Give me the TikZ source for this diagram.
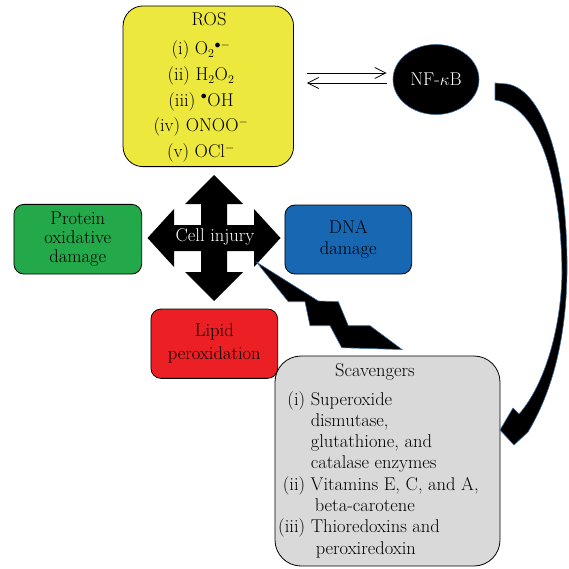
\documentclass[tikz,border=0pt]{standalone}
\usetikzlibrary{arrows.meta,calc,shapes.geometric}
\definecolor{rosyellow}{RGB}{237,232,62}
\definecolor{protgreen}{RGB}{35,168,74}
\definecolor{dnablue}{RGB}{23,103,178}
\definecolor{lipidred}{RGB}{236,32,36}
\definecolor{scavgray}{RGB}{217,217,217}
\definecolor{edgeblue}{RGB}{60,110,160}
\tikzset{
  box/.style={draw=black, line width=0.8pt, rounded corners=10pt, inner sep=0pt, align=center},
  txt/.style={inner sep=0pt, font=\fontsize{18.5}{21.3}\selectfont},
  dblarrow/.style={line width=0.8pt, -{Straight Barb[length=11pt,width=11pt]}},
  shapeedge/.style={fill=black, draw=edgeblue, line width=0.6pt}
}
\begin{document}
\begin{tikzpicture}[x=1pt,y=-1pt]
\useasboundingbox (0,0) rectangle (569,569);

% ROS box
\node[box, fill=rosyellow, rounded corners=20pt, minimum width=170.5pt, minimum height=160.7pt] (ros) at (208.3,86.3) {};
\node[txt, anchor=base] (rostitle) at (209,26) {ROS};
\node[txt, anchor=base, font=\fontsize{18.5}{25.6}\selectfont] (roslist) at (201,55) {\begin{tabular}[t]{@{}c@{}}
(i) O$_2{}^{\bullet-}$\\
(ii) H$_2$O$_2$\\
(iii) $^\bullet$OH\\
(iv) ONOO$^-$\\
(v) OCl$^-$
\end{tabular}};

% NF-kB
\node[ellipse, draw=edgeblue, line width=0.6pt, fill=black, minimum width=86pt, minimum height=70pt, inner sep=0pt, text=white, font=\fontsize{18.5}{21}\selectfont] (nfkb) at (436,79.5) {NF-$\kappa$B};

\draw[dblarrow] ($(ros.east |- nfkb.center)+(13,-6.5)$) -- ($(nfkb.west)+(-6,-6.5)$);
\draw[dblarrow] ($(nfkb.west)+(-6,3.5)$) -- ($(ros.east |- nfkb.center)+(13,3.5)$);

% damage boxes
\node[box, fill=protgreen, minimum width=127.7pt, minimum height=69.7pt, font=\fontsize{18.5}{18.8}\selectfont] (prot) at (77.8,239.2) {Protein\\oxidative\\damage};
\node[box, fill=dnablue, minimum width=126.7pt, minimum height=69pt, font=\fontsize{18.5}{21.6}\selectfont] (dna) at (348.3,239.5) {DNA\\damage};
\node[box, fill=lipidred, minimum width=126.7pt, minimum height=69.3pt, font=\fontsize{18.5}{23.3}\selectfont] (lipid) at (214.3,343.7) {Lipid\\peroxidation};

% Cell injury quad arrow
\begin{scope}[shift={(214,238)}]
\fill (0,-63) -- (29,-34) -- (13,-34) -- (13,-13) -- (40,-13) -- (40,-29) -- (66.5,0) -- (40,29) -- (40,13) -- (13,13) -- (13,34) -- (29,34) -- (0,63) -- (-29,34) -- (-13,34) -- (-13,13) -- (-40,13) -- (-40,29) -- (-66.5,0) -- (-40,-29) -- (-40,-13) -- (-13,-13) -- (-13,-34) -- (-29,-34) -- cycle;
\end{scope}
\node[txt, text=white] (cell) at (215,237) {Cell injury};

% lightning bolt
\filldraw[shapeedge] (256.7,262.3) -- (318.3,301) -- (338.3,301.7) -- (348.3,325.7) -- (370,325.7) -- (402,349.5) -- (341.7,347.7) -- (330,325.7) -- (310,325.7) -- (305,301.7) -- (288.3,301.7) -- cycle;

% Scavengers box
\node[box, fill=scavgray, rounded corners=26pt, minimum width=225pt, minimum height=210pt] (scav) at (387.5,461) {};
\node[txt, anchor=base] (scavtitle) at (375,376.7) {Scavengers};
\node[txt, anchor=base west] (scavlist) at (278,405) {\begin{tabular}[t]{@{}r@{\ }l@{}}
(i) & Superoxide\\
 & dismutase,\\
 & glutathione, and\\
 & catalase enzymes\\
(ii) & Vitamins E, C, and A,\\
 & \hspace{4pt}beta-carotene\\
(iii) & Thioredoxins and\\
 & \hspace{5pt}peroxiredoxin
\end{tabular}};

% curved arrow NF-kB -> scavengers
\filldraw[shapeedge] (495,83) -- (507,84) .. controls (545,90) and (568,170) .. (567,273)
 .. controls (566,340) and (552,392) .. (528,432)
 -- (514,445) -- (500,430) -- (513,408) -- (519,414)
 .. controls (544,386) and (561,330) .. (562,273)
 .. controls (561,180) and (540,106) .. (495,100) -- cycle;
\end{tikzpicture}
\end{document}
